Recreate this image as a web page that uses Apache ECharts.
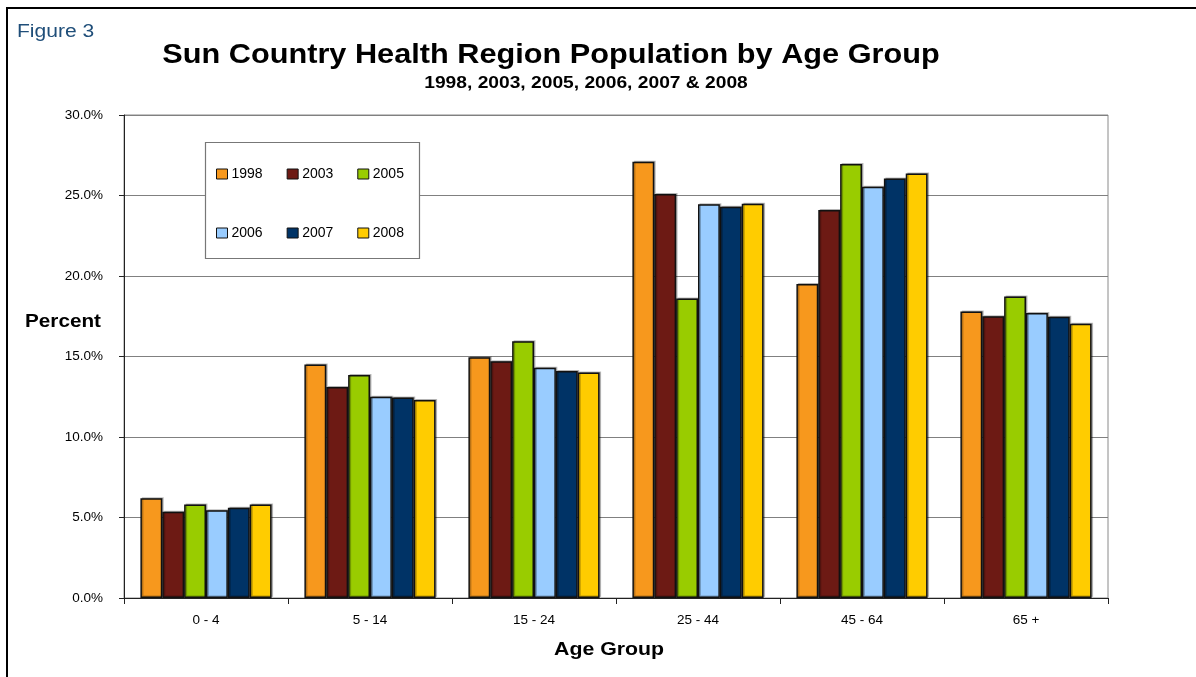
<!DOCTYPE html>
<html>
<head>
<meta charset="utf-8">
<script src="https://cdn.jsdelivr.net/npm/echarts@6/dist/echarts.min.js"></script>
<style>
html,body{margin:0;padding:0;background:#fff;}
#chart{width:1196px;height:677px;}
</style>
</head>
<body>
<div id="chart"></div>
<script>
const categories = ['0 - 4', '5 - 14', '15 - 24', '25 - 44', '45 - 64', '65 +'];
const years = ['1998', '2003', '2005', '2006', '2007', '2008'];
const v1998 = [6.2, 14.5, 14.95, 27.1, 19.5, 17.8];
const v2003 = [5.35, 13.1, 14.7, 25.1, 24.1, 17.5];
const v2005 = [5.8, 13.85, 15.95, 18.6, 26.95, 18.72];
const v2006 = [5.45, 12.5, 14.3, 24.45, 25.55, 17.7];
const v2007 = [5.6, 12.45, 14.1, 24.3, 26.05, 17.47];
const v2008 = [5.8, 12.3, 14.0, 24.48, 26.37, 17.03];
const yTicks = [0, 5, 10, 15, 20, 25, 30];
const colors = ['#F7981D', '#6D1A14', '#99CC00', '#99CCFF', '#003366', '#FFCC00'];
const seriesValues = [v1998, v2003, v2005, v2006, v2007, v2008];

const FONT = 'Liberation Sans, Arial, sans-serif';
const chart = echarts.init(document.getElementById('chart'));

const series = years.map((y, i) => ({
  name: y,
  type: 'bar',
  data: seriesValues[i],
  barGap: '0%',
  barCategoryGap: '20%',
  itemStyle: {
    color: colors[i],
    borderColor: '#111',
    borderWidth: 1.5,
    shadowColor: 'rgba(0,0,0,0.25)',
    shadowOffsetX: 1.5,
    shadowOffsetY: -1
  },
  emphasis: {disabled: true}
}));

const legendCommon = {
  orient: 'horizontal',
  left: 211,
  itemWidth: 11,
  itemHeight: 10,
  itemGap: 24,
  icon: 'rect',
  textStyle: {fontFamily: FONT, fontSize: 14, color: '#000', padding: [0, 0, 0, -1]},
  itemStyle: {borderColor: '#111', borderWidth: 1}
};

function txt(text, x, y, font, sx, color, align) {
  return {type: 'text', x: x, y: y, scaleX: sx, silent: true,
    style: {text: text, font: font, fill: color || '#000', textAlign: align || 'center', textVerticalAlign: 'middle'}};
}

chart.setOption({
  animation: false,
  color: colors,
  grid: {left: 124, top: 115, right: 88, bottom: 79, show: true, borderColor: '#8a8a8a', borderWidth: 1},
  legend: [
    Object.assign({}, legendCommon, {top: 162, data: years.slice(0, 3)}),
    Object.assign({}, legendCommon, {top: 221, data: years.slice(3, 6)})
  ],
  xAxis: {
    type: 'category',
    data: categories,
    axisLine: {lineStyle: {color: '#222', width: 1}},
    axisTick: {show: true, length: 6, lineStyle: {color: '#222'}},
    axisLabel: {fontFamily: FONT, fontSize: 13.5, color: '#000', margin: 15}
  },
  yAxis: {
    type: 'value',
    min: yTicks[0],
    max: yTicks[yTicks.length - 1],
    interval: 5,
    axisLine: {show: true, lineStyle: {color: '#222', width: 1}},
    axisTick: {show: true, length: 5, lineStyle: {color: '#222'}},
    splitLine: {lineStyle: {color: '#808080', width: 1}},
    axisLabel: {fontFamily: FONT, fontSize: 13.5, color: '#000', margin: 21,
      formatter: v => v.toFixed(1) + '%'}
  },
  series: series,
  graphic: [
    {type: 'rect', z: 100, silent: true, shape: {x: 7, y: 8, width: 1300, height: 800},
      style: {fill: 'none', stroke: '#000', lineWidth: 2}},
    {type: 'rect', z: 1, silent: true, shape: {x: 205.5, y: 142.5, width: 214, height: 116},
      style: {fill: '#fff', stroke: '#777', lineWidth: 1.2}},
    txt('Figure 3', 17, 32, '18px ' + FONT, 1.17, '#1F4E79', 'left'),
    txt('Sun Country Health Region Population by Age Group', 551, 55, 'bold 28px ' + FONT, 1.096),
    txt('1998, 2003, 2005, 2006, 2007 & 2008', 586, 84, 'bold 16px ' + FONT, 1.2),
    txt('Percent', 63, 322, 'bold 18px ' + FONT, 1.15),
    txt('Age Group', 609, 650, 'bold 18.5px ' + FONT, 1.15)
  ]
});
</script>
</body>
</html>
